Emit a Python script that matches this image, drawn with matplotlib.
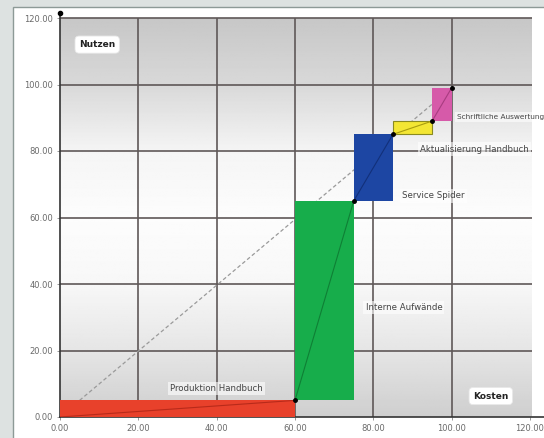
import matplotlib
matplotlib.use('Agg')
import matplotlib.pyplot as plt
from matplotlib.patches import Rectangle
import numpy as np

# Kosten/Nutzen-Stufen (x = Kosten, y = Nutzen)
labels = ['Produktion Handbuch', 'Interne Aufwände', 'Service Spider',
          'Aktualisierung Handbuch', 'Schriftliche Auswertung']
cost_start = [0, 60, 75, 85, 95]
cost_end = [60, 75, 85, 95, 100]
benefit_start = [0, 5, 65, 85, 89]
benefit_end = [5, 65, 85, 89, 99]
colors = ['#e8412b', '#17ad4b', '#1d46a3', '#f3e634', '#d65aa9']
line_colors = ['#b82a1a', '#0f7f35', '#12307a', '#a89c10', '#a83c80']
edge_colors = ['none', 'none', 'none', '#8a8a20', 'none']

ticks = [0, 20, 40, 60, 80, 100, 120]
tick_labels = ['0.00', '20.00', '40.00', '60.00', '80.00', '100.00', '120.00']

W, H = 544, 438
fig = plt.figure(figsize=(W / 100, H / 100), dpi=100)
fig.patch.set_facecolor('#dde2e1')

# white panel
panel = Rectangle((13 / W, -0.05), 1.0, (H - 7) / H + 0.05,
                  transform=fig.transFigure, facecolor='white',
                  edgecolor='#8d9a97', linewidth=1.0, zorder=-5)
fig.add_artist(panel)

x0, y0 = 60, 417
px_x = 470 / 120
px_y = 399 / 120
xmax, ymax = 124.5, 121.5
ax = fig.add_axes([x0 / W, (H - y0) / H, xmax * px_x / W, ymax * px_y / H])
ax.set_zorder(2)
ax.patch.set_alpha(0)

# background gradient
yy = np.linspace(0, 120, 300)
shade = np.interp(yy, [0, 20, 40, 60, 80, 100, 120],
                  [0.81, 0.90, 0.97, 0.99, 0.96, 0.85, 0.78])
grad = np.tile(shade[:, None], (1, 2))
ax.imshow(grad, extent=(0, 120.5, 0, 120), origin='lower', cmap='gray',
          vmin=0, vmax=1, aspect='auto', zorder=0)
ax.set_xlim(0, xmax)
ax.set_ylim(0, ymax)

# grid
ax.hlines(ticks[1:], 0, 120.5, color='#5f5858', linewidth=1.2, zorder=1)
ax.vlines(ticks[1:-1], 0, 120, color='#5f5858', linewidth=1.2, zorder=1)

# reference diagonal
ax.plot([5, 100], [5, 99], color='#9a9a9a', linewidth=0.9,
        linestyle=(0, (3, 2)), zorder=2)

# steps
for i in range(len(labels)):
    w = cost_end[i] - cost_start[i]
    h = benefit_end[i] - benefit_start[i]
    ax.bar(cost_start[i], h, width=w, bottom=benefit_start[i], align='edge',
           color=colors[i], edgecolor=edge_colors[i], linewidth=0.8, zorder=3)
    ax.plot([cost_start[i], cost_end[i]], [benefit_start[i], benefit_end[i]],
            color=line_colors[i], linewidth=0.8, zorder=4)
    ax.plot(cost_end[i], benefit_end[i], 'o', color='black', markersize=2.5,
            zorder=5)

lab_pos = [(40, 8.5, 'center', 6.2), (78, 33, 'left', 6.2),
           (87.3, 66.5, 'left', 6.2), (92, 80.6, 'left', 6.2),
           (101.3, 90.2, 'left', 5.3)]
for (lx, ly, ha, fs), t in zip(lab_pos, labels):
    ax.text(lx, ly, t, fontsize=fs, color='#444444', ha=ha, va='center',
            zorder=6, clip_on=False,
            bbox=dict(boxstyle='square,pad=0.25', facecolor='white',
                      edgecolor='none', alpha=0.6))

ax.text(9.5, 112, 'Nutzen', fontsize=6.5, fontweight='bold', color='#222222',
        ha='center', va='center', zorder=6,
        bbox=dict(boxstyle='round,pad=0.45', facecolor='white',
                  edgecolor='#e8e8e8', linewidth=0.6))
ax.text(110, 6.3, 'Kosten', fontsize=6.5, fontweight='bold', color='#222222',
        ha='center', va='center', zorder=6,
        bbox=dict(boxstyle='round,pad=0.45', facecolor='white',
                  edgecolor='#e8e8e8', linewidth=0.6))

# axes
for s in ['top', 'right']:
    ax.spines[s].set_visible(False)
ax.spines['left'].set_color('#333333')
ax.spines['bottom'].set_color('#333333')
ax.spines['left'].set_linewidth(1.2)
ax.spines['bottom'].set_linewidth(1.2)
ax.plot(0, ymax, 'o', color='black', markersize=3, clip_on=False, zorder=7)

ax.set_xticks(ticks)
ax.set_xticklabels(tick_labels)
ax.set_yticks(ticks)
ax.set_yticklabels(tick_labels)
ax.tick_params(axis='both', labelsize=6, labelcolor='#6a6a6a',
               length=2, color='#888888', width=0.6, pad=3)

fig.savefig('out.png', dpi=100, facecolor=fig.get_facecolor())
